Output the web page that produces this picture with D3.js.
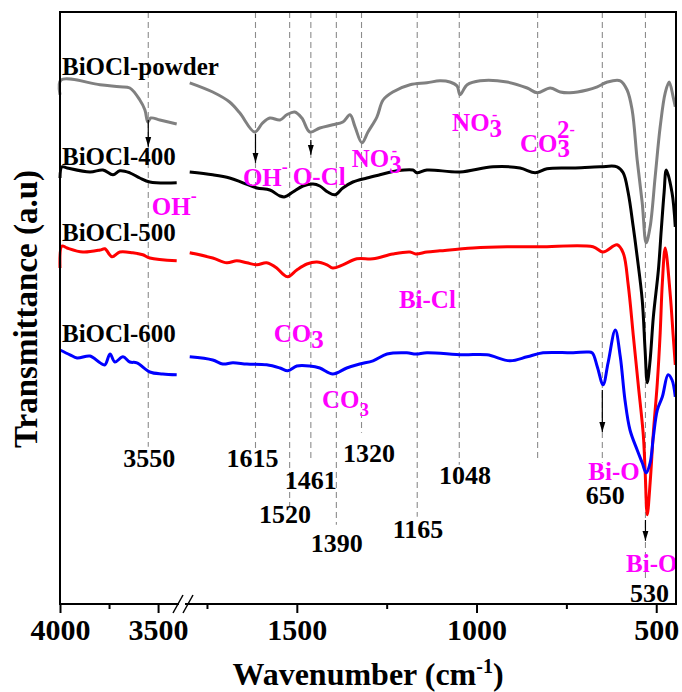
<!DOCTYPE html>
<html>
<head>
<meta charset="utf-8">
<script src="https://cdn.jsdelivr.net/npm/d3@7/dist/d3.min.js"></script>
<style>
  html, body { margin: 0; padding: 0; background: #fff; }
  svg { display: block; }
  text { font-family: "Liberation Serif", "Times New Roman", serif; font-weight: bold; }
</style>
</head>
<body>
<svg id="chart" width="682" height="692"></svg>
<script>
// FT-IR spectra of BiOCl samples, stacked (transmittance, arbitrary units)
const seriesNames = ["BiOCl-powder", "BiOCl-400", "BiOCl-500", "BiOCl-600"];
const seriesColors = ["#808080", "#000000", "#ff0000", "#0000ff"];

// [wavenumber cm-1, transmittance a.u.] — high-wavenumber segment (4000–3400)
const powderHigh = [[4000,127.3],[3995,131],[3796,129.8],[3695,129.3],[3644,129],[3593,126],[3567,123.5],[3552,120.5],[3537,121.5],[3491,121],[3405,120]];
const b400High = [[4000,106.5],[3990,109.3],[3964,109],[3847,108],[3781,108.5],[3730,107.3],[3695,108.3],[3644,107.8],[3593,106.5],[3542,105.5],[3405,105.3]];
const b500High = [[4000,84],[3990,89.5],[3964,89],[3883,88],[3796,88.5],[3771,88.8],[3735,86.8],[3695,88],[3629,87.8],[3578,87.3],[3542,86.5],[3405,85.8]];
const b600High = [[4000,63.5],[3949,62.3],[3913,61.5],[3847,62],[3796,60.3],[3771,59.8],[3745,62.5],[3720,60.5],[3679,61.8],[3644,60.5],[3608,60.3],[3542,58],[3476,57.5],[3405,57.3]];

// low-wavenumber segment (1800–445)
const powderLow = [[1798,130.3],[1734,128],[1687,125.5],[1659,122.8],[1617,118],[1595,120.3],[1575,121.5],[1547,121],[1528,122.3],[1506,123],[1486,121.5],[1464,118],[1436,119],[1400,119.8],[1372,120.5],[1352,122.3],[1338,119.3],[1319,115.3],[1302,118],[1277,121.8],[1260,126],[1233,128],[1185,129.8],[1138,130.3],[1102,130.8],[1074,130.5],[1054,129.5],[1046,127.3],[1026,129.8],[990,130.8],[915,130.5],[859,129],[831,127.8],[795,129],[767,128],[740,127.8],[692,128.5],[664,129.3],[636,130.5],[600,130.8],[581,128.5],[567,123.5],[553,111],[539,100.3],[528,90.3],[517,94.3],[503,106.8],[489,119.3],[475,127.8],[464,130.5],[453,126.8],[447,124.3]];
const b400Low = [[1798,108],[1734,107.3],[1687,106.5],[1650,105.3],[1611,104],[1575,103.5],[1547,102],[1533,101.8],[1511,103],[1483,104.5],[1455,105],[1436,104.5],[1414,103],[1394,102.3],[1372,104],[1344,105.5],[1305,106.5],[1269,107.3],[1221,108.3],[1177,108.5],[1166,107.8],[1138,108.5],[1046,108],[954,109.3],[879,109],[837,107.8],[804,108.8],[731,109],[656,109.3],[609,109.3],[592,107.8],[578,102.8],[564,94.3],[553,86.8],[539,76],[531,63.5],[525,55.3],[517,61],[508,71.8],[494,83.5],[486,93.5],[478,103],[472,108.5],[456,102.8],[447,94.3]];
const b500Low = [[1798,87.8],[1734,86.5],[1695,85.3],[1667,85.8],[1639,85.3],[1611,84.8],[1584,85.3],[1556,84],[1539,82.5],[1525,81.8],[1500,83.5],[1472,85],[1444,85.5],[1416,84.8],[1400,84],[1372,84.8],[1333,86.3],[1288,86.3],[1233,87.5],[1185,88],[1169,87.5],[1138,88],[1102,88.3],[1010,89],[915,89.3],[823,89.3],[676,89.3],[648,88],[609,89.8],[592,87.8],[578,79.8],[564,67.3],[550,54.8],[536,42.3],[531,33.5],[525,22.3],[517,30.3],[508,42.8],[497,55.3],[489,67.8],[483,80.3],[475,89],[461,77.3],[453,67.3],[447,59.8]];
const b600Low = [[1798,61.8],[1734,61],[1706,60],[1678,60.3],[1639,60],[1584,59.8],[1547,59],[1525,58.3],[1500,59.5],[1464,59.5],[1436,59],[1400,57.5],[1361,59],[1325,60],[1288,60.8],[1249,62.5],[1194,62.8],[1169,62.5],[1138,62.8],[1038,62.3],[971,62.3],[907,60.8],[859,61.8],[815,62.8],[731,62.8],[692,63],[678,62.8],[664,59.3],[648,54.8],[634,60.3],[614,68.5],[600,61.8],[587,51],[573,43.5],[553,38.5],[539,35.3],[528,32.8],[517,35.3],[508,41.8],[497,48.5],[483,51.8],[467,57.3],[456,56],[447,51.8]];

const highSegments = [powderHigh, b400High, b500High, b600High];
const lowSegments = [powderLow, b400Low, b500Low, b600Low];

// axis ticks
const majorTicksHigh = [4000, 3500];
const minorTicksHigh = [3750];
const majorTicksLow = [1500, 1000, 500];
const minorTicksLow = [1750, 1250, 750];

// band positions (cm-1) marked with dashed guides, and where each guide stops (a.u.)
const bandWavenumbers = [3550, 1615, 1520, 1461, 1390, 1320, 1165, 1048, 830, 650, 530];
const bandGuideEnds = [39.3, 39, 24.3, 36, 19.8, 42.8, 21.8, 34.8, 36.5, 35.3, 5.5];
// numeric band labels: [text, centre wavenumber, baseline a.u.]
const bandLabels = [["3550",3545,34.3],["1615",1623,34.3],["1461",1461,28.8],["1520",1533,20.3],["1390",1389,13],["1320",1299,35.5],["1048",1032,30],["1165",1163,16.5],["650",642,25],["530",519,0.5]];
// arrows: [wavenumber, from a.u., to a.u.]
const arrows = [[3550,121,114.3],[1615,117.5,110.3],[1461,116,112.3],[650,53.5,43],[530,21,15.8]];

const svg = d3.select("#chart");
const frame = {left: 60, right: 676, top: 12, bottom: 604};

const y = d3.scaleLinear().domain([0, 148]).range([frame.bottom, frame.top]);
const xHigh = d3.scaleLinear().domain([4000, 3378]).range([frame.left, 182]);
const xLow = d3.scaleLinear().domain([1800, 445]).range([189, frame.right]);
const x = w => (w > 2500 ? xHigh(w) : xLow(w));

// dashed band guides
svg.append("g").selectAll("line").data(bandWavenumbers).join("line")
  .attr("x1", d => x(d)).attr("x2", d => x(d))
  .attr("y1", frame.top).attr("y2", (d, i) => y(bandGuideEnds[i]))
  .attr("stroke", "#8c8c8c").attr("stroke-width", 1.1)
  .attr("stroke-dasharray", "6,4");

// spectra
const line = d3.line().x(d => x(d[0])).y(d => y(d[1])).curve(d3.curveCatmullRom.alpha(0.5));
const curves = svg.append("g").attr("fill", "none").attr("stroke-width", 3).attr("stroke-linejoin", "round");
seriesNames.forEach((name, i) => {
  [highSegments[i], lowSegments[i]].forEach(seg => {
    curves.append("path").datum(seg).attr("d", line).attr("stroke", seriesColors[i]);
  });
});

// series names
const seriesLabelY = [132.3, 109.8, 90.8, 65.5];
svg.append("g").selectAll("text").data(seriesNames).join("text")
  .attr("x", xHigh(3990)).attr("y", (d, i) => y(seriesLabelY[i]))
  .attr("font-size", 25).attr("fill", "#000").text(d => d);

// arrows
const defs = svg.append("defs");
defs.append("marker").attr("id", "head").attr("viewBox", "0 0 10 10")
  .attr("refX", 10).attr("refY", 5).attr("markerWidth", 10).attr("markerHeight", 10)
  .attr("markerUnits", "userSpaceOnUse").attr("orient", "auto")
  .append("path").attr("d", "M0,2 L10,5 L0,8 Z").attr("fill", "#000");
svg.append("g").selectAll("line").data(arrows).join("line")
  .attr("x1", d => x(d[0])).attr("x2", d => x(d[0]))
  .attr("y1", d => y(d[1])).attr("y2", d => y(d[2]))
  .attr("stroke", "#000").attr("stroke-width", 1.2).attr("marker-end", "url(#head)");

// band numbers
svg.append("g").selectAll("text").data(bandLabels).join("text")
  .attr("x", d => x(d[1])).attr("y", d => y(d[2]))
  .attr("text-anchor", "middle").attr("font-size", 26).attr("fill", "#000")
  .text(d => d[0]);

// magenta assignments
const pink = "#ff00ff";
const ann = svg.append("g").attr("fill", pink).attr("font-size", 25);
function addText(w, v) { return ann.append("text").attr("x", x(w)).attr("y", y(v)); }

// OH- (3550)
let t = addText(3532, 97.3); t.append("tspan").text("OH");
t.append("tspan").attr("dy", -13).attr("font-size", 18).text("-");
// OH- (1615)
t = addText(1650, 104.5); t.append("tspan").text("OH");
t.append("tspan").attr("dy", -13).attr("font-size", 18).text("-");
// O-Cl
addText(1511, 104.8).text("O-Cl");
// NO3- (1320, 1048) with the charge stacked over the subscript
[[1347, 109.3], [1068, 118.3]].forEach(p => {
  const tt = addText(p[0], p[1]);
  tt.append("tspan").text("NO");
  tt.append("tspan").attr("dy", 6).attr("font-size", 25).text("3");
  tt.append("tspan").attr("dx", -10).attr("dy", -17).attr("font-size", 16).text("-");
});
// CO3 2-
t = addText(879, 113); t.append("tspan").text("CO");
t.append("tspan").attr("dy", 5).text("3");
t.append("tspan").attr("dx", -13).attr("dy", -19).text("2");
t.append("tspan").attr("dy", -3).attr("font-size", 16).text("-");
// CO3 (1520)
t = addText(1564, 65.5); t.append("tspan").text("CO");
t.append("tspan").attr("dy", 6).text("3");
// CO3 (1390)
t = addText(1430, 49); t.append("tspan").text("CO");
t.append("tspan").attr("dy", 8).attr("font-size", 19).text("3");
// Bi-Cl, Bi-O
addText(1216, 74).text("Bi-Cl");
addText(689, 31).text("Bi-O");
addText(584, 8).text("Bi-O");

// axes
const axisFont = g => g.selectAll("text").attr("font-size", 30)
  .attr("font-family", "'Liberation Serif', 'Times New Roman', serif").attr("font-weight", "bold").attr("fill", "#000");
const axG = svg.append("g").attr("transform", `translate(0,${frame.bottom})`);
[[xHigh, majorTicksHigh, minorTicksHigh], [xLow, majorTicksLow, minorTicksLow]].forEach(([sc, maj, min]) => {
  const gMaj = axG.append("g").call(d3.axisBottom(sc).tickValues(maj).tickSize(9).tickPadding(6).tickFormat(d3.format("d")));
  gMaj.select(".domain").remove();
  gMaj.selectAll("line").attr("stroke-width", 2);
  axisFont(gMaj);
  gMaj.selectAll("text").attr("dy", "0.71em");
  const gMin = axG.append("g").call(d3.axisBottom(sc).tickValues(min).tickSize(5).tickFormat(""));
  gMin.select(".domain").remove();
  gMin.selectAll("line").attr("stroke-width", 2);
});

// frame
svg.append("rect").attr("x", frame.left).attr("y", frame.top)
  .attr("width", frame.right - frame.left).attr("height", frame.bottom - frame.top)
  .attr("fill", "none").attr("stroke", "#000").attr("stroke-width", 2);

// axis break marks
const bx = 183;
svg.append("rect").attr("x", bx - 4).attr("y", frame.bottom - 2).attr("width", 6).attr("height", 4).attr("fill", "#fff");
[-5, 5].forEach(o => {
  svg.append("line").attr("x1", bx + o - 5).attr("y1", frame.bottom + 9)
    .attr("x2", bx + o + 5).attr("y2", frame.bottom - 9)
    .attr("stroke", "#000").attr("stroke-width", 1.5);
});

// axis titles
const xt = svg.append("text").attr("x", (frame.left + frame.right) / 2).attr("y", 685)
  .attr("text-anchor", "middle").attr("font-size", 32);
xt.append("tspan").text("Wavenumber (cm");
xt.append("tspan").attr("dy", -12).attr("font-size", 20).text("-1");
xt.append("tspan").attr("dy", 12).text(")");

svg.append("text").attr("transform", "translate(37,309) rotate(-90)")
  .attr("text-anchor", "middle").attr("font-size", 33).text("Transmittance (a.u)");
</script>
</body>
</html>
